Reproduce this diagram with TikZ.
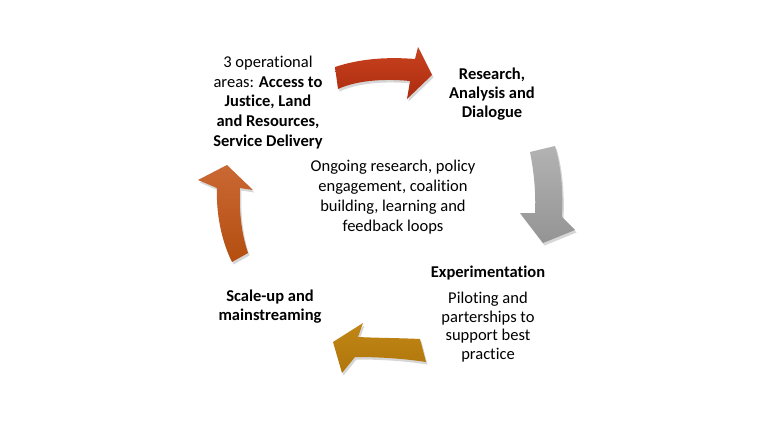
\documentclass[tikz,border=0pt]{standalone}
\usepackage{fontspec}
\setmainfont{Carlito}[Ligatures=NoCommon]
\usetikzlibrary{positioning}
\begin{document}
\begin{tikzpicture}[x=1pt,y=-1pt,line join=round,
    txt/.style={align=center,inner sep=0pt,font=\fontsize{16.5}{19.8}\selectfont},
    shadowfill/.style={fill=black,opacity=0.16}]
  \useasboundingbox[fill=white] (0,0) rectangle (780,439);
  % shadows
  \begin{scope}[shift={(1.5,2.5)}]
    \fill[shadowfill] (335,67) .. controls (362,58) and (390,57) .. (415,59) -- (418,47) -- (432,75)
      -- (407,99) -- (410,81) .. controls (390,79) and (360,79) .. (338,89) -- cycle;
    \fill[shadowfill] (530,152) -- (555,146) .. controls (562,170) and (563,195) .. (562,217) -- (575,230)
      -- (543,243) -- (520,213) -- (535,213) .. controls (536,193) and (534,172) .. cycle;
    \fill[shadowfill] (420,339) -- (426,362) .. controls (400,358) and (375,357) .. (355,357) -- (342,373)
      -- (333,342) -- (363,323) -- (358,337) .. controls (378,338) and (400,338) .. cycle;
    \fill[shadowfill] (232,262) -- (248,253) .. controls (241,232) and (239,210) .. (240,188) -- (253,190)
      -- (227,165) -- (198,180) -- (217,188) .. controls (216,212) and (221,240) .. cycle;
  \end{scope}
  % arrows
  \shade[top color={rgb,255:red,200;green,66;blue,32}, bottom color={rgb,255:red,172;green,44;blue,14}]
    (335,67) .. controls (362,58) and (390,57) .. (415,59) -- (418,47) -- (432,75)
    -- (407,99) -- (410,81) .. controls (390,79) and (360,79) .. (338,89) -- cycle;
  \shade[top color=black!30, bottom color=black!42]
    (530,152) -- (555,146) .. controls (562,170) and (563,195) .. (562,217) -- (575,230)
    -- (543,243) -- (520,213) -- (535,213) .. controls (536,193) and (534,172) .. cycle;
  \shade[top color={rgb,255:red,192;green,134;blue,22}, bottom color={rgb,255:red,176;green,118;blue,10}]
    (420,339) -- (426,362) .. controls (400,358) and (375,357) .. (355,357) -- (342,373)
    -- (333,342) -- (363,323) -- (358,337) .. controls (378,338) and (400,338) .. cycle;
  \shade[top color={rgb,255:red,202;green,104;blue,52}, bottom color={rgb,255:red,180;green,78;blue,16}]
    (232,262) -- (248,253) .. controls (241,232) and (239,210) .. (240,188) -- (253,190)
    -- (227,165) -- (198,180) -- (217,188) .. controls (216,212) and (221,240) .. cycle;
  % labels
  \node[txt] (areas) at (268,102.5) {3 operational\\areas: \textbf{Access to}\\\textbf{Justice, Land}\\\textbf{and Resources,}\\\textbf{Service Delivery}};
  \node[txt,font=\fontsize{16.5}{19}\selectfont\bfseries] (research) at (492,94) {Research,\\Analysis and\\Dialogue};
  \node[txt] (ongoing) at (393,197) {Ongoing research, policy\\engagement, coalition\\building, learning and\\feedback loops};
  \node[txt,font=\fontsize{16.5}{19}\selectfont\bfseries] (exper) at (488,273) {Experimentation};
  \node[txt,font=\fontsize{16.5}{18.5}\selectfont,below=12pt of exper] (pilot) {Piloting and\\parterships to\\support best\\practice};
  \node[txt,font=\fontsize{16.5}{19}\selectfont\bfseries] (scaleup) at (270,306.5) {Scale-up and\\mainstreaming};
\end{tikzpicture}
\end{document}
